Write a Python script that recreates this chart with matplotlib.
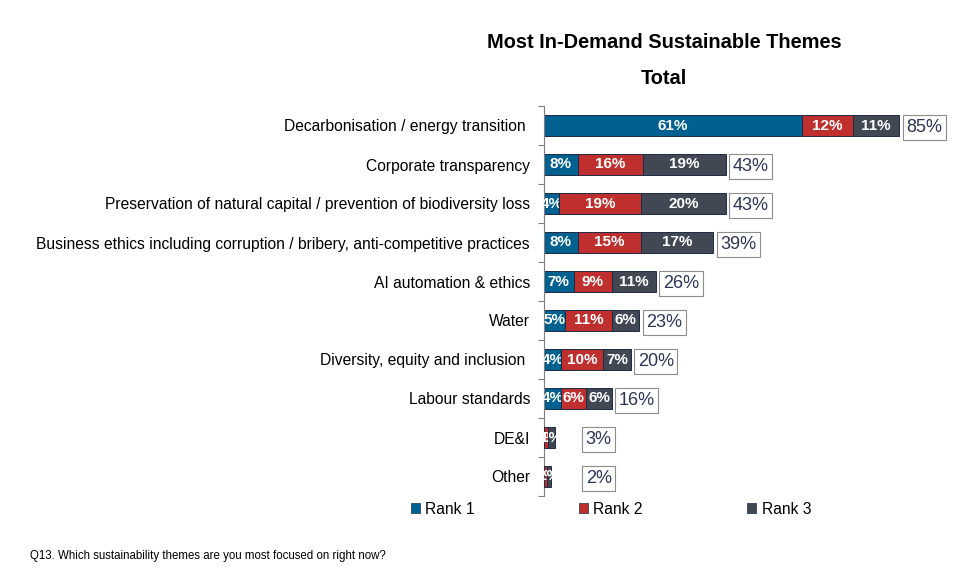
import matplotlib
matplotlib.use("Agg")
import matplotlib.pyplot as plt
from matplotlib.patches import Patch

plt.rcParams['font.family'] = ['Liberation Sans', 'DejaVu Sans']

categories = [
    "Decarbonisation / energy transition ",
    "Corporate transparency",
    "Preservation of natural capital / prevention of biodiversity loss",
    "Business ethics including corruption / bribery, anti-competitive practices",
    "AI automation & ethics",
    "Water",
    "Diversity, equity and inclusion ",
    "Labour standards",
    "DE&I",
    "Other",
]
rank1 = [61, 8, 3.5, 8, 7, 5, 4, 4, 0, 0]
rank2 = [12, 15.5, 19.5, 15, 9, 11, 10, 6, 1.0, 0.8]
rank3 = [11, 19.5, 20, 17, 10.5, 6.5, 6.5, 6, 1.5, 0.8]
rank1_labels = ["61%", "8%", "4%", "8%", "7%", "5%", "4%", "4%", "", ""]
rank2_labels = ["12%", "16%", "19%", "15%", "9%", "11%", "10%", "6%", "1%", "1%"]
rank3_labels = ["11%", "19%", "20%", "17%", "11%", "6%", "7%", "6%", "1%", "1%"]
total_labels = ["85%", "43%", "43%", "39%", "26%", "23%", "20%", "16%", "3%", "2%"]
series_names = ["Rank 1", "Rank 2", "Rank 3"]
colors = ["#00608F", "#BE2F2D", "#414854"]

W, H = 960, 569
fig = plt.figure(figsize=(W / 100, H / 100), dpi=100)
ax = fig.add_axes([544 / W, 1 - 496 / H, 401 / W, 390 / H])
ax.set_xlim(0, 401 / 4.23)
ax.set_ylim(9.5, -0.5)

ypos = list(range(len(categories)))
left = [0.0] * len(categories)
z = 2
for vals, labs, col in zip([rank1, rank2, rank3],
                           [rank1_labels, rank2_labels, rank3_labels], colors):
    ax.barh(ypos, vals, left=left, height=0.55, color=col,
            edgecolor="#1f2a44", linewidth=0.7, zorder=z)
    for y, v, l, lab in zip(ypos, vals, left, labs):
        if v > 0 and lab:
            ax.text(l + v / 2, y, lab, ha="center", va="center", color="white",
                    fontsize=11, fontweight="bold", zorder=z + 1, clip_on=True)
    left = [a + b for a, b in zip(left, vals)]
    z += 2

for y, tot, lab in zip(ypos, left, total_labels):
    ax.annotate(lab, xy=(max(tot, 8.2), y), xytext=(5, 0),
                textcoords="offset points", ha="left", va="center_baseline",
                fontsize=13, color="#2b3557", annotation_clip=False,
                bbox=dict(boxstyle="square,pad=0.2", fc="white",
                          ec="#8c8c8c", lw=0.8))

for s in ["top", "right", "bottom"]:
    ax.spines[s].set_visible(False)
ax.spines["left"].set_color("#7f7f7f")
ax.spines["left"].set_linewidth(0.8)
ax.set_xticks([])
ax.set_yticks(ypos)
ax.set_yticklabels(categories, fontsize=11.25)
ax.tick_params(axis="y", which="major", length=0, pad=10)
ax.set_yticks([i - 0.5 for i in range(len(categories) + 1)], minor=True)
ax.tick_params(axis="y", which="minor", length=4, color="#7f7f7f", width=0.8)

fig.text(664 / W, 1 - 43 / H, "Most In-Demand Sustainable Themes",
         ha="center", va="center", fontsize=14.4, fontweight="bold")
fig.text(664 / W, 1 - 78 / H, "Total", ha="center", va="center",
         fontsize=14.4, fontweight="bold")

handles = [Patch(facecolor=c, edgecolor="#1f2a44", linewidth=0.5) for c in colors]
fig.legend(handles, series_names, loc="center",
           bbox_to_anchor=(411 / W, 1 - 517 / H, 400 / W, 16 / H),
           mode="expand", ncol=3, frameon=False, fontsize=11.25,
           handlelength=0.55, handleheight=0.55, handletextpad=0.35,
           borderpad=0, borderaxespad=0)

fig.text(30 / W, 1 - 556 / H,
         "Q13. Which sustainability themes are you most focused on right now?",
         ha="left", va="center", fontsize=8.3)

fig.savefig("out.png", dpi=100)
